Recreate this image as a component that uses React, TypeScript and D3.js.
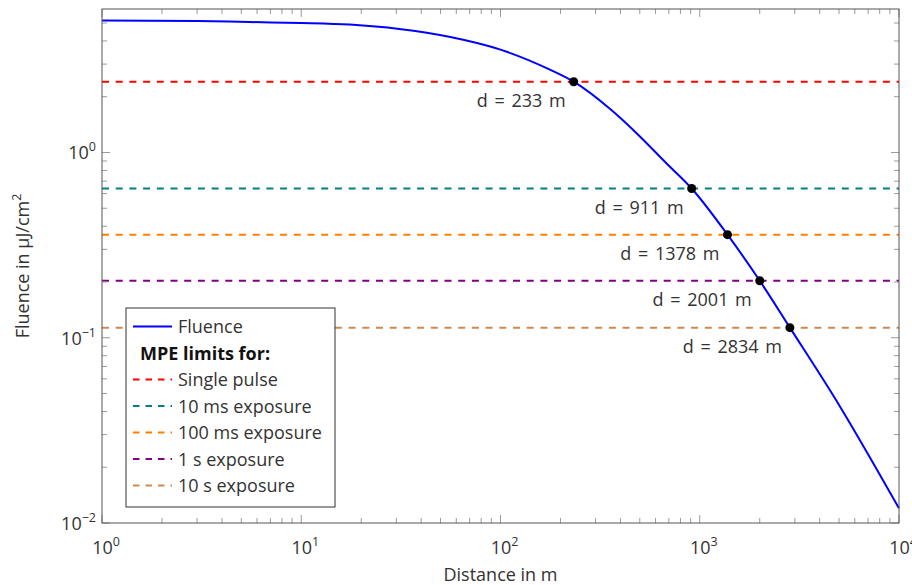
import React from 'react';
import * as d3 from 'd3';

// fluence curve (distance in m, fluence in uJ/cm^2)
const curveDist = [1, 3, 5.5, 10, 17.5, 31, 56, 100, 177, 233, 354, 482, 676, 911, 1378, 2001, 2834, 5000, 10000];
const curveFluence = [5.15, 5.12, 5.06, 5.0, 4.9, 4.64, 4.2, 3.59, 2.8, 2.41, 1.72, 1.27, 0.88, 0.639, 0.36, 0.203, 0.1134, 0.0434, 0.012];

// MPE limits
const limitNames = ['Single pulse', '10 ms exposure', '100 ms exposure', '1 s exposure', '10 s exposure'];
const limitValues = [2.41, 0.639, 0.36, 0.203, 0.1134];
const limitColors = ['#ff0000', '#008080', '#ff8000', '#800080', '#cc8a50'];
const crossDist = [233, 911, 1378, 2001, 2834];

const xTicks = [1, 10, 100, 1000, 10000];
const yTicks = [0.01, 0.1, 1];

const W = 912, H = 585;
const margin = { left: 102, right: 13, top: 9, bottom: 62 };
const font = '"Open Sans", "DejaVu Sans", sans-serif';
const fs = 18;

const Pow = ({ exp, ...rest }: any) => (
  <text {...rest}>
    10<tspan dy={-8} fontSize={12.5}>{exp}</tspan>
  </text>
);

export default function App() {
  const x = d3.scaleLog().domain([1, 10000]).range([margin.left, W - margin.right]);
  const y = d3.scaleLog().domain([0.01, 5.95]).range([H - margin.bottom, margin.top]);
  const [x0, x1] = x.range();
  const [y0, y1] = y.range();

  const line = d3.line<number>()
    .x((d, i) => x(curveDist[i]))
    .y((d) => y(d))
    .curve(d3.curveMonotoneX);

  // minor ticks
  const xMinor: number[] = [];
  for (let e = 0; e < 4; e++) for (let k = 2; k <= 9; k++) xMinor.push(k * Math.pow(10, e));
  const yMinor: number[] = [];
  for (let e = -2; e < 1; e++) for (let k = 2; k <= 9; k++) {
    const v = k * Math.pow(10, e);
    if (v <= 5.95) yMinor.push(v);
  }

  const tickColor = '#9a9a9a';
  const legX = 126, legY = 308, rowH = 26.5;

  return (
    <svg width={W} height={H} style={{ position: 'absolute', left: 0, top: 0, background: '#fff' }} fontFamily={font}>
      {/* limit lines */}
      {limitValues.map((v, i) => (
        <line key={'l' + i} x1={x0} x2={x1} y1={y(v)} y2={y(v)} stroke={limitColors[i]} strokeWidth={2} strokeDasharray="7 6.7" />
      ))}
      {/* fluence */}
      <path d={line(curveFluence) || ''} fill="none" stroke="#0000ff" strokeWidth={2} />
      {/* crossings */}
      {crossDist.map((d, i) => (
        <g key={'c' + i}>
          <circle cx={x(d)} cy={y(limitValues[i])} r={4.5} fill="#000" />
          <text x={x(d) - 8} y={y(limitValues[i]) + 25} textAnchor="end" fontSize={fs} fill="#333" style={{ wordSpacing: '2px' }}>{`d = ${d} m`}</text>
        </g>
      ))}

      {/* ticks */}
      {xMinor.map((v) => (
        <g key={'xm' + v} stroke={tickColor}>
          <line x1={x(v)} x2={x(v)} y1={y0} y2={y0 - 5} />
          <line x1={x(v)} x2={x(v)} y1={y1} y2={y1 + 5} />
        </g>
      ))}
      {xTicks.map((v) => (
        <g key={'xM' + v} stroke={tickColor}>
          <line x1={x(v)} x2={x(v)} y1={y0} y2={y0 - 8} />
          <line x1={x(v)} x2={x(v)} y1={y1} y2={y1 + 8} />
        </g>
      ))}
      {yMinor.map((v) => (
        <g key={'ym' + v} stroke={tickColor}>
          <line x1={x0} x2={x0 + 5} y1={y(v)} y2={y(v)} />
          <line x1={x1} x2={x1 - 5} y1={y(v)} y2={y(v)} />
        </g>
      ))}
      {yTicks.map((v) => (
        <g key={'yM' + v} stroke={tickColor}>
          <line x1={x0} x2={x0 + 8} y1={y(v)} y2={y(v)} />
          <line x1={x1} x2={x1 - 8} y1={y(v)} y2={y(v)} />
        </g>
      ))}

      {/* frame */}
      <rect x={x0} y={y1} width={x1 - x0} height={y0 - y1} fill="none" stroke="#555" strokeWidth={1} />

      {/* tick labels */}
      {xTicks.map((v) => (
        <Pow key={'xl' + v} exp={String(Math.round(Math.log10(v)))} x={x(v) + 4} y={y0 + 31} textAnchor="middle" fontSize={fs} fill="#333" />
      ))}
      {yTicks.map((v) => {
        const e = Math.round(Math.log10(v));
        return <Pow key={'yl' + v} exp={e < 0 ? '\u2212' + Math.abs(e) : String(e)} x={x0 - 6} y={y(v) + 7} textAnchor="end" fontSize={fs} fill="#333" />;
      })}

      {/* axis titles */}
      <text x={(x0 + x1) / 2} y={581} textAnchor="middle" fontSize={fs} fill="#333">Distance in m</text>
      <text transform={`translate(29, ${(y0 + y1) / 2}) rotate(-90)`} textAnchor="middle" fontSize={fs} fill="#333">
        Fluence in µJ/cm<tspan dy={-8} fontSize={12.5}>2</tspan>
      </text>

      {/* legend */}
      <rect x={legX} y={legY} width={209} height={199} fill="#fff" stroke="#333" strokeWidth={1} />
      <line x1={legX + 7} x2={legX + 46} y1={legY + 18.5} y2={legY + 18.5} stroke="#0000ff" strokeWidth={2} />
      <text x={legX + 52} y={legY + 25} fontSize={fs} fill="#333">Fluence</text>
      <text x={legX + 14} y={legY + 25 + rowH} fontSize={fs} fontWeight="bold" fill="#111">MPE limits for:</text>
      {limitNames.map((n, i) => {
        const cy = legY + 18.5 + rowH * (i + 2);
        return (
          <g key={'lg' + i}>
            <line x1={legX + 7} x2={legX + 46} y1={cy} y2={cy} stroke={limitColors[i]} strokeWidth={2} strokeDasharray="6.5 6" />
            <text x={legX + 52} y={cy + 6.5} fontSize={fs} fill="#333">{n}</text>
          </g>
        );
      })}
    </svg>
  );
}
